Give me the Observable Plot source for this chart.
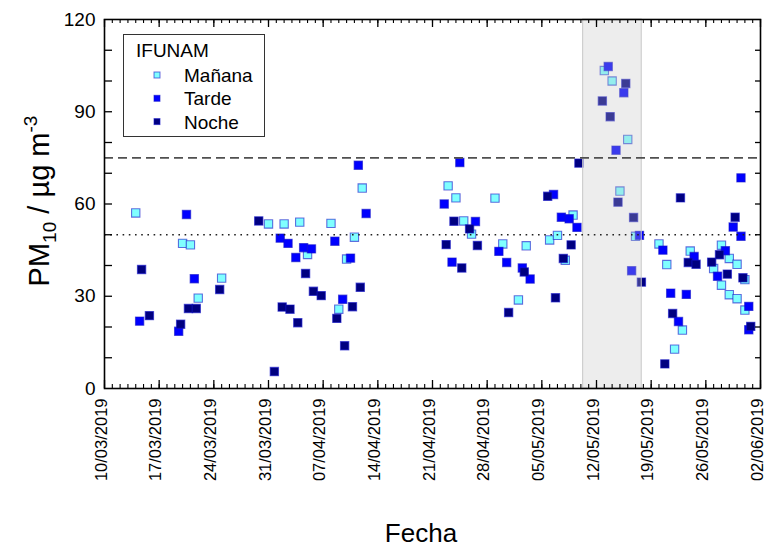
<!DOCTYPE html>
<html><head><meta charset="utf-8">
<script src="https://cdn.jsdelivr.net/npm/d3@7"></script>
<script src="https://cdn.jsdelivr.net/npm/@observablehq/plot@0.6"></script>
<style>body{margin:0;background:#fff}</style>
</head><body><div id="chart"></div>
<script>
// ---- data ----
const series = ["Mañana", "Tarde", "Noche"];
const seriesHour = ["00", "12", "18"];
const seriesFill = ["#80ffff", "#0000ff", "#000080"];

const mananaDates = ["2019-03-14","2019-03-20","2019-03-21","2019-03-22","2019-03-25","2019-03-31","2019-04-02","2019-04-04","2019-04-05","2019-04-08","2019-04-09","2019-04-10","2019-04-11","2019-04-12","2019-04-23","2019-04-24","2019-04-25","2019-04-26","2019-04-29","2019-04-30","2019-05-02","2019-05-03","2019-05-06","2019-05-07","2019-05-08","2019-05-09","2019-05-13","2019-05-14","2019-05-15","2019-05-16","2019-05-17","2019-05-20","2019-05-21","2019-05-22","2019-05-23","2019-05-24","2019-05-27","2019-05-28","2019-05-28","2019-05-29","2019-05-29","2019-05-30","2019-05-30","2019-05-31","2019-05-31"];
const mananaValues = [57.1,47.2,46.7,29.4,35.9,53.5,53.5,54.1,43.6,53.7,25.8,42.1,49.2,65.2,65.9,62.0,54.5,50.2,61.9,47.0,28.8,46.4,48.3,49.8,41.7,56.4,103.4,100.0,64.2,81.0,49.5,47.0,40.3,12.8,19.0,44.7,39.0,46.6,33.6,42.3,30.5,40.4,29.2,35.4,25.5];

const tardeDates = ["2019-03-14","2019-03-19","2019-03-20","2019-03-21","2019-04-01","2019-04-02","2019-04-03","2019-04-04","2019-04-05","2019-04-08","2019-04-09","2019-04-10","2019-04-11","2019-04-12","2019-04-22","2019-04-23","2019-04-24","2019-04-26","2019-04-29","2019-04-30","2019-05-02","2019-05-03","2019-05-06","2019-05-07","2019-05-08","2019-05-09","2019-05-13","2019-05-14","2019-05-15","2019-05-16","2019-05-17","2019-05-20","2019-05-21","2019-05-22","2019-05-23","2019-05-24","2019-05-27","2019-05-28","2019-05-29","2019-05-30","2019-05-30","2019-05-31","2019-05-31"];
const tardeValues = [21.9,18.6,56.6,35.7,48.9,47.2,42.6,45.8,45.4,47.9,29.0,42.4,72.6,56.9,60.0,41.1,73.5,54.3,44.6,41.0,39.2,35.6,63.1,55.7,55.2,52.4,104.7,77.5,96.2,38.3,49.8,45.0,31.0,21.8,30.6,42.9,36.5,44.8,52.5,68.5,49.5,26.7,19.1];

const nocheDates = ["2019-03-14","2019-03-15","2019-03-19","2019-03-20","2019-03-21","2019-03-24","2019-03-29","2019-03-31","2019-04-01","2019-04-02","2019-04-03","2019-04-04","2019-04-05","2019-04-06","2019-04-08","2019-04-09","2019-04-10","2019-04-11","2019-04-22","2019-04-23","2019-04-24","2019-04-25","2019-04-26","2019-04-30","2019-05-02","2019-05-05","2019-05-06","2019-05-07","2019-05-08","2019-05-09","2019-05-12","2019-05-13","2019-05-14","2019-05-15","2019-05-16","2019-05-17","2019-05-20","2019-05-21","2019-05-22","2019-05-23","2019-05-24","2019-05-26","2019-05-27","2019-05-28","2019-05-29","2019-05-30","2019-05-31"];
const nocheValues = [38.7,23.7,20.9,26.0,26.0,32.2,54.5,5.5,26.5,25.8,21.4,37.4,31.6,30.2,22.8,13.9,26.6,32.9,46.8,54.4,39.2,51.9,46.5,24.7,37.9,62.5,29.5,42.3,46.7,73.3,93.5,88.4,60.6,99.2,55.6,34.6,8.0,24.4,62.0,41.0,40.4,41.1,43.5,37.2,55.7,36.0,20.2];

const xTickLabels = ["10/03/2019","17/03/2019","24/03/2019","31/03/2019","07/04/2019","14/04/2019","21/04/2019","28/04/2019","05/05/2019","12/05/2019","19/05/2019","26/05/2019","02/06/2019"];
const yTickValues = [0, 30, 60, 90, 120];
const yMinorTicks = [10, 20, 30, 40, 50, 60, 70, 80, 90, 100, 110];
const eventStart = "2019-05-10T07:00Z";
const eventEnd = "2019-05-17T19:00Z";
const limit24h = 75;
const limitAnnual = 50;

// ---- build ----
const parseTick = d3.utcParse("%d/%m/%Y");
const fmtTick = d3.utcFormat("%d/%m/%Y");
const majorTicks = xTickLabels.map(parseTick);
const xDomain = [majorTicks[0], majorTicks[majorTicks.length - 1]];
const dayTicks = d3.utcDay.range(xDomain[0], d3.utcDay.offset(xDomain[1], 1));

const dateLists = [mananaDates, tardeDates, nocheDates];
const valueLists = [mananaValues, tardeValues, nocheValues];
const rows = [];
series.forEach((s, i) => {
  dateLists[i].forEach((d, j) => rows.push({serie: s, date: new Date(d + "T" + seriesHour[i] + ":00Z"), value: valueLists[i][j]}));
});
const band = [{start: new Date(eventStart), end: new Date(eventEnd)}];

const W = 766, H = 548, mL = 104, mR = 6, mT = 19, mB = 160;
const pw = W - mL - mR, ph = H - mT - mB;

const chart = Plot.plot({
  width: W, height: H,
  marginLeft: mL, marginRight: mR, marginTop: mT, marginBottom: mB,
  style: {fontFamily: "'Liberation Sans', Arial, sans-serif", background: "#fff", color: "#000"},
  x: {type: "utc", domain: xDomain, axis: null},
  y: {domain: [0, 120], axis: null},
  color: {domain: series, range: seriesFill},
  marks: [
    Plot.dot(rows, {x: "date", y: "value", fill: "serie", symbol: "square", r: 4.7,
      stroke: "#1010c8", strokeOpacity: 0.6, strokeWidth: 1.1}),
    Plot.rect(band, {x1: "start", x2: "end", fill: "#c4c4c4", fillOpacity: 0.3,
      stroke: "#c8c8c8", strokeWidth: 1}),
    Plot.ruleY([limit24h], {stroke: "#505050", strokeWidth: 1.6, strokeDasharray: "9,5"}),
    Plot.ruleY([limitAnnual], {stroke: "#222", strokeWidth: 1.7, strokeDasharray: "1.6,4.6"}),
    // ticks (inward)
    Plot.ruleX(majorTicks, {x: d => d, insetTop: ph - 8, stroke: "#000", strokeWidth: 1.3}),
    Plot.ruleX(dayTicks, {x: d => d, insetTop: ph - 4, stroke: "#000", strokeWidth: 1.1}),
    Plot.ruleX(majorTicks, {x: d => d, insetBottom: ph - 8, stroke: "#000", strokeWidth: 1.3}),
    Plot.ruleX(dayTicks, {x: d => d, insetBottom: ph - 4, stroke: "#000", strokeWidth: 1.1}),
    Plot.ruleY(yMinorTicks, {y: d => d, insetRight: pw - 8, stroke: "#000", strokeWidth: 1.3}),
    Plot.ruleY(yMinorTicks, {y: d => d, insetLeft: pw - 5, stroke: "#000", strokeWidth: 1.3}),
    Plot.frame({stroke: "#000", strokeWidth: 1.6}),
    Plot.axisX({ticks: majorTicks, tickFormat: fmtTick, tickRotate: -90, tickSize: 0, tickPadding: 10,
      fontSize: 16.5, label: null, anchor: "bottom", dx: -3}),
    Plot.axisY({ticks: yTickValues, tickSize: 0, tickPadding: 9, fontSize: 19, label: null, anchor: "left"})
  ]
});
document.getElementById("chart").appendChild(chart);

// ---- axis titles and legend ----
const svg = d3.select(chart);
const font = "'Liberation Sans', Arial, sans-serif";
svg.append("text").attr("x", 421).attr("y", 542).attr("text-anchor", "middle")
  .attr("font-family", font).attr("font-size", 26).attr("fill", "#000").text("Fecha");

const yl = svg.append("text").attr("transform", "translate(49,201) rotate(-90)")
  .attr("text-anchor", "middle").attr("font-family", font).attr("font-size", 29).attr("fill", "#000");
yl.append("tspan").text("PM");
yl.append("tspan").attr("font-size", 19).attr("dy", 7).text("10");
yl.append("tspan").attr("dy", -7).text(" / µg m");
yl.append("tspan").attr("font-size", 19).attr("dy", -12).text("-3");

const lg = svg.append("g").attr("font-family", font).attr("font-size", 19).attr("fill", "#000")
  .attr("text-anchor", "start");
lg.append("rect").attr("x", 123.5).attr("y", 34.5).attr("width", 141).attr("height", 102)
  .attr("fill", "#fff").attr("stroke", "#333").attr("stroke-width", 1);
lg.append("text").attr("x", 136).attr("y", 57).attr("text-anchor", "start").text("IFUNAM");
series.forEach((s, i) => {
  const cy = 75 + i * 23.3;
  lg.append("rect").attr("x", 154).attr("y", cy - 3).attr("width", 6).attr("height", 6)
    .attr("fill", seriesFill[i]).attr("stroke", "#1010c8").attr("stroke-opacity", 0.6).attr("stroke-width", 1);
  lg.append("text").attr("x", 184).attr("y", cy + 7).attr("text-anchor", "start").text(s);
});
</script>
</body></html>
